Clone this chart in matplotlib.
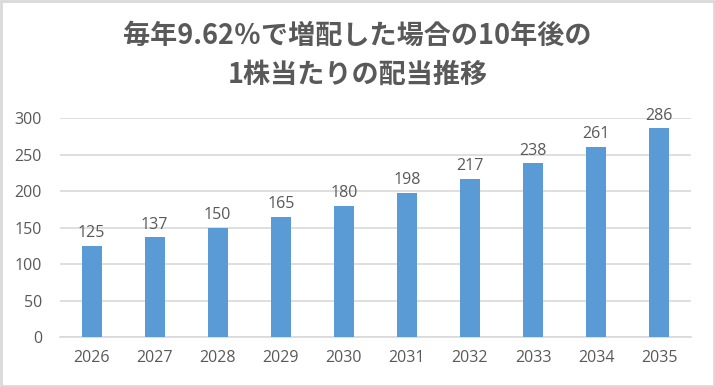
import matplotlib
matplotlib.use("Agg")
import matplotlib.pyplot as plt
from matplotlib.patches import Rectangle

plt.rcParams['font.family'] = ['Noto Sans CJK JP', 'DejaVu Sans']

years = ['2026', '2027', '2028', '2029', '2030', '2031', '2032', '2033', '2034', '2035']
dividends = [125, 137, 150, 165, 180, 198, 217, 238, 261, 286]
title = '毎年9.62％で増配した場合の10年後の\n1株当たりの配当推移'

text_color = '#595959'
grid_color = '#D9D9D9'
bar_color = '#5B9BD5'

fig = plt.figure(figsize=(7.15, 3.87), dpi=100)
ax = fig.add_axes([0.084, 0.129, 0.882, 0.566])

x = range(len(years))
ax.bar(x, dividends, width=0.32, color=bar_color, zorder=3)
for xi, v in zip(x, dividends):
    ax.text(xi, v + 6, str(v), ha='center', va='bottom', fontsize=11.5,
            color=text_color, family=['Open Sans', 'DejaVu Sans'])

ax.set_xlim(-0.5, len(years) - 0.5)
ax.set_ylim(0, 300)
ax.set_yticks(range(0, 301, 50))
ax.set_xticks(list(x))
ax.set_xticklabels(years)
ax.yaxis.grid(True, color=grid_color, linewidth=1.2, zorder=0)
ax.set_axisbelow(True)
for s in ['top', 'right', 'left']:
    ax.spines[s].set_visible(False)
ax.spines['bottom'].set_color(grid_color)
ax.spines['bottom'].set_linewidth(1.2)
ax.tick_params(axis='both', length=0, colors=text_color, labelsize=11.5)
ax.tick_params(axis='x', pad=9)
ax.tick_params(axis='y', pad=13)
for lab in ax.get_xticklabels() + ax.get_yticklabels():
    lab.set_family(['Open Sans', 'DejaVu Sans'])

fig.text(0.5, 0.857, title, ha='center', va='center', fontsize=19.5,
         fontweight='bold', color=text_color, linespacing=1.5)

fig.patches.append(Rectangle((0.002, 0.003), 0.996, 0.994, transform=fig.transFigure,
                             fill=False, edgecolor=grid_color, linewidth=2))

fig.savefig('out.png', dpi=100)
